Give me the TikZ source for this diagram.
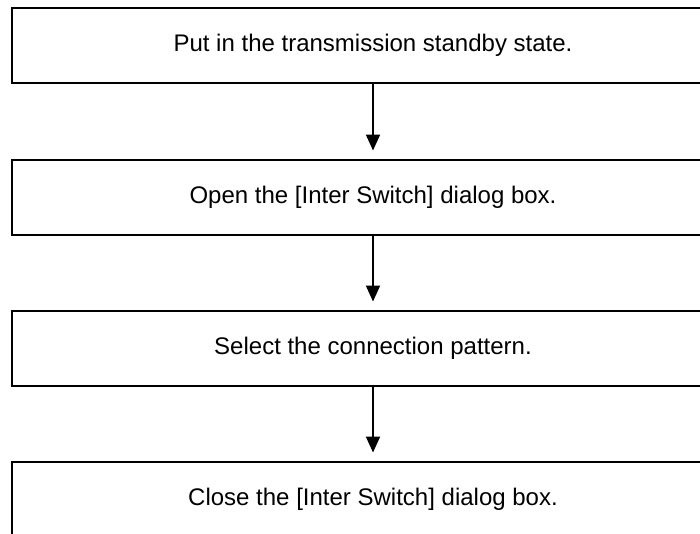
\documentclass[tikz,border=0pt]{standalone}
\usepackage{fontspec}
\setmainfont{Liberation Sans}
\usetikzlibrary{arrows.meta}
\tikzset{
  stepbox/.style={draw=black, line width=2pt, rectangle, minimum width=723pt, minimum height=75pt, inner sep=0pt, font=\fontsize{24}{28}\selectfont},
  flowarrow/.style={line width=2pt, -{Triangle[length=16pt,width=14pt]}}
}
\begin{document}
\begin{tikzpicture}[x=1pt,y=-1pt]
\useasboundingbox (0,0) rectangle (700,533);
\clip (0,0) rectangle (700,533);
\node[stepbox] (b1) at (373,45.5) {Put in the transmission standby state.};
\node[stepbox] (b2) at (373,197) {Open the [Inter Switch] dialog box.};
\node[stepbox] (b3) at (373,348) {Select the connection pattern.};
\node[stepbox] (b4) at (373,499) {Close the [Inter Switch] dialog box.};
\draw[flowarrow] ([yshift=2pt]b1.south) -- ([yshift=8pt]b2.north);
\draw[flowarrow] ([yshift=2pt]b2.south) -- ([yshift=8pt]b3.north);
\draw[flowarrow] ([yshift=2pt]b3.south) -- ([yshift=8pt]b4.north);
\end{tikzpicture}
\end{document}
